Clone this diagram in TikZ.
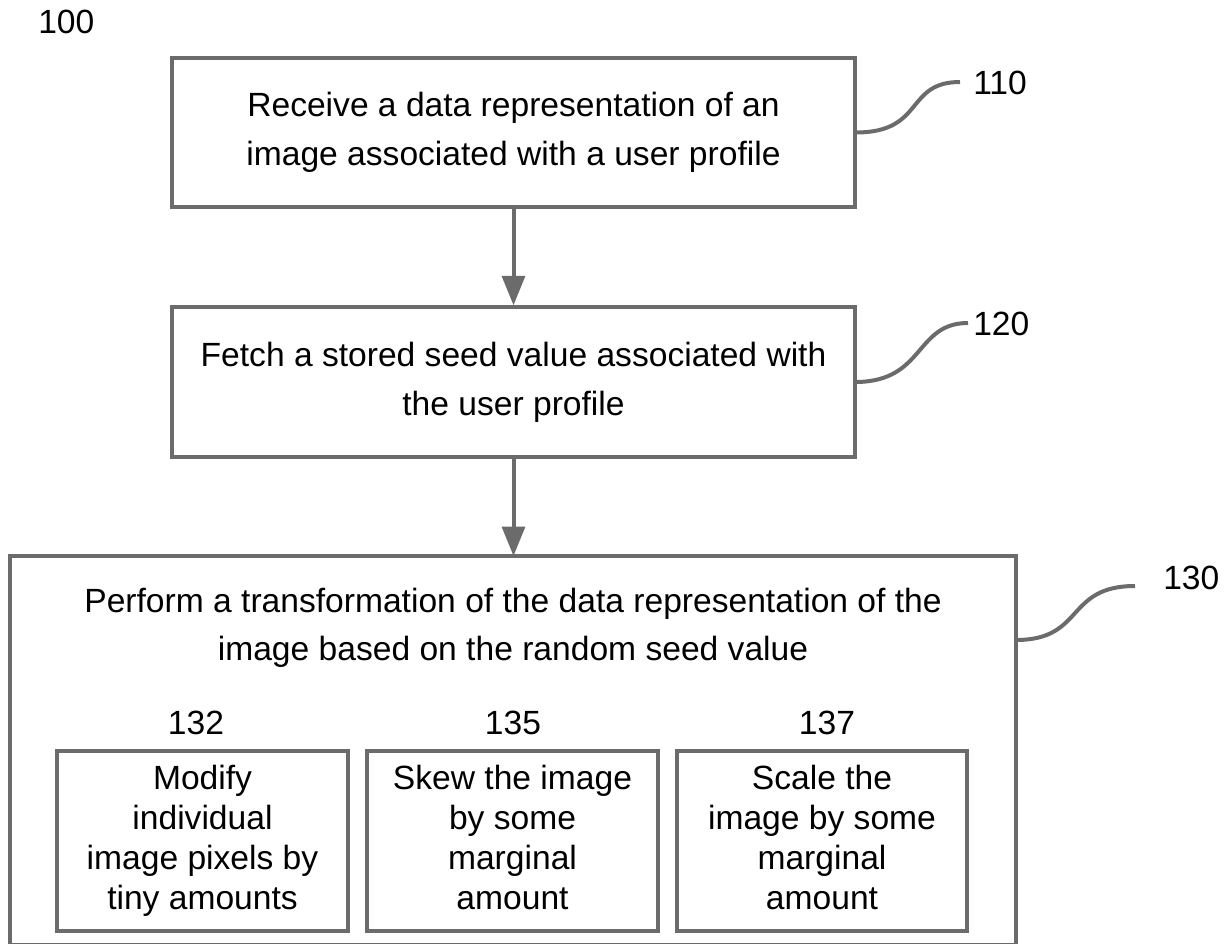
\documentclass[tikz,border=0pt]{standalone}
\usepackage{fontspec}
\setmainfont{Liberation Sans}
\usetikzlibrary{arrows.meta}
\definecolor{linegray}{HTML}{6B6B6B}
\begin{document}
\begin{tikzpicture}[x=0.75pt,y=-0.75pt,
  box/.style={draw=linegray, line width=3pt, minimum width=#1, inner sep=0pt, align=center},
  bigtext/.style={font=\fontsize{25.2}{36.5}\selectfont, align=center},
  smalltext/.style={font=\fontsize{25.2}{30}\selectfont, align=center},
  lbl/.style={font=\fontsize{25.2}{30}\selectfont, inner sep=0pt},
  flow/.style={draw=linegray, line width=3pt, -{Triangle[length=22pt,width=17pt]}},
  squig/.style={draw=linegray, line width=3pt}
]
\useasboundingbox (0,0) rectangle (1229,944);

\node[lbl, anchor=west] (l100) at (38,22) {100};

\node[box, minimum width=512pt, minimum height=112pt, bigtext] (b110) at (513.5,132.5)
  {Receive a data representation of an\\image associated with a user profile};
\node[box, minimum width=512pt, minimum height=112pt, bigtext] (b120) at (513.5,382)
  {Fetch a stored seed value associated with\\the user profile};

\draw[box] (10,556) rectangle (1016,945);
\node[bigtext, anchor=north] (t130) at (513,583)
  {Perform a transformation of the data representation of the\\image based on the random seed value};
\coordinate (b130e) at (1016,640);

\node[box, minimum width=218pt, minimum height=135pt, smalltext] (s132) at (202.5,841)
  {\strut Modify\\individual\\image pixels by\\tiny amounts\strut};
\node[box, minimum width=218pt, minimum height=135pt, smalltext] (s135) at (512.5,841)
  {\strut Skew the image\\by some\\marginal\\amount\strut};
\node[box, minimum width=218pt, minimum height=135pt, smalltext] (s137) at (822,841)
  {\strut Scale the\\image by some\\marginal\\amount\strut};

\node[lbl] (l132) at (196,723) {132};
\node[lbl] (l135) at (513,723) {135};
\node[lbl] (l137) at (827,723) {137};

\node[lbl, anchor=west] (l110) at (973,83) {110};
\node[lbl, anchor=west] (l120) at (973,324) {120};
\node[lbl, anchor=west] (l130) at (1163,578) {130};

\coordinate (e110) at (960,82);
\coordinate (e120) at (968,323);
\coordinate (e130) at (1135,586);

\draw[flow] (b110.south) -- (b120.north);
\draw[flow] (b120.south) -- (513.5,556);

\draw[squig] (b110.east) .. controls (925,132) and (905,82) .. (e110);
\draw[squig] (b120.east) .. controls (925,381) and (915,323) .. (e120);
\draw[squig] (b130e) .. controls (1085,640) and (1065,586) .. (e130);
\end{tikzpicture}
\end{document}
